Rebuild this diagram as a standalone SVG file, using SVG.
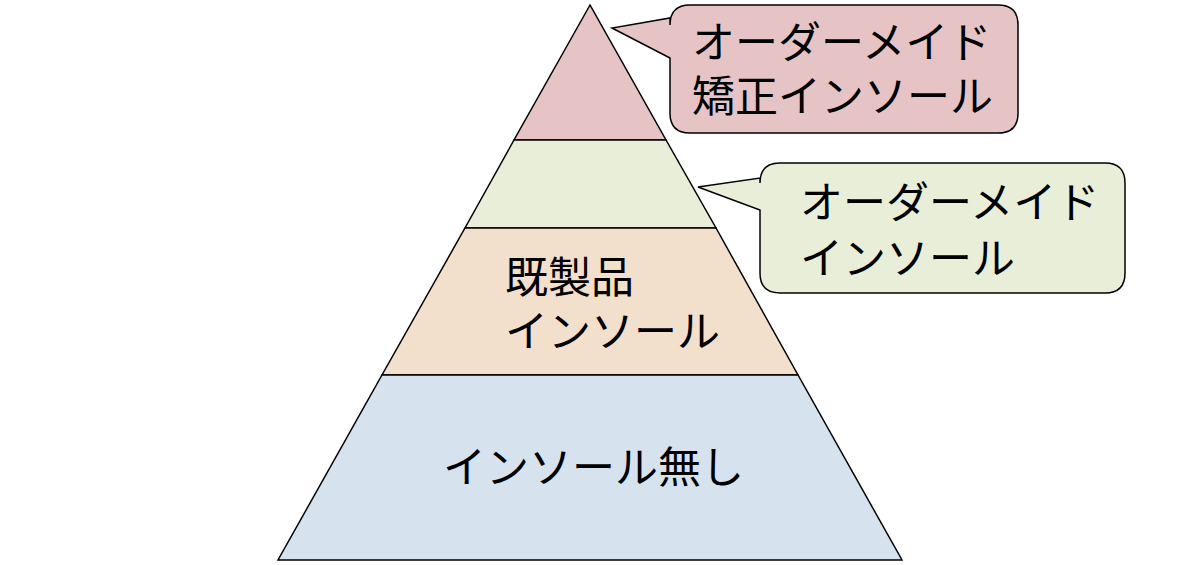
<svg xmlns="http://www.w3.org/2000/svg" width="1200" height="565" viewBox="0 0 1200 565">
<style>
.l{stroke:#000;stroke-width:1.5}
text{font-family:"Noto Sans CJK JP",sans-serif;font-size:43px;fill:#000}
</style>
<rect width="1200" height="565" fill="#fff"/>
<g id="pyramid">
<polygon class="l" points="590,5 514,140 666,140" fill="#e6c4c6"/>
<polygon class="l" points="514,140 666,140 716,228 465,228" fill="#e8eed8"/>
<polygon class="l" points="465,228 716,228 798,375 382,375" fill="#f2dfcc"/>
<polygon class="l" points="382,375 798,375 902,560 278,560" fill="#d6e3ee"/>
<text x="505" y="293">既製品</text>
<text x="505" y="347">インソール</text>
<text x="443" y="483">インソール無し</text>
</g>
<g id="callout1">
<path class="l" fill="#e6c4c6" d="M690,5 H998 Q1018,5 1018,25 V113 Q1018,133 998,133 H690 Q670,133 670,113 V58 L612,28 L670,18 V25 Q670,5 690,5 Z"/>
<text x="692" y="58">オーダーメイド</text>
<text x="692" y="112">矯正インソール</text>
</g>
<g id="callout2">
<path class="l" fill="#e8eed8" d="M780,163 H1105 Q1125,163 1125,183 V273 Q1125,293 1105,293 H780 Q760,293 760,273 V210 L698,187 L760,178 V183 Q760,163 780,163 Z"/>
<text x="800" y="218">オーダーメイド</text>
<text x="800" y="274">インソール</text>
</g>
</svg>
